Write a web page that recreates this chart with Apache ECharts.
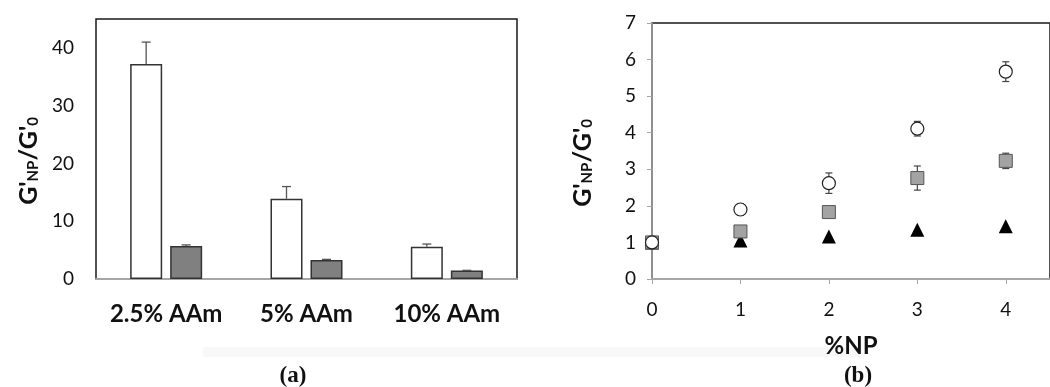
<!DOCTYPE html>
<html>
<head>
<meta charset="utf-8">
<script src="https://cdn.jsdelivr.net/npm/echarts@6/dist/echarts.min.js"></script>
<style>
  html, body { margin: 0; padding: 0; background: #fff; }
  #chart { width: 1050px; height: 387px; }
</style>
</head>
<body>
<div id="chart"></div>
<script>
// panel (a): bars per acrylamide content
var aamCategories = ['2.5% AAm', '5% AAm', '10% AAm'];
var whiteBarValues = [37.2, 13.9, 5.6];
var whiteBarErrors = [3.8, 2.1, 0.45];
var grayBarValues = [5.7, 3.3, 1.45];
var grayBarErrors = [0.2, 0.1, 0.05];

// panel (b): ratio vs nanoparticle content
var npPercent = [0, 1, 2, 3, 4];
var circleValues = [1.0, 1.9, 2.62, 4.11, 5.67];
var circleErrors = [0.05, 0.15, 0.28, 0.2, 0.27];
var squareValues = [1.0, 1.3, 1.83, 2.76, 3.23];
var squareErrors = [0.05, 0.08, 0.1, 0.33, 0.21];
var triangleValues = [1.0, 1.05, 1.16, 1.35, 1.44];

var FONT = 'Lato';
var yTitle = "{g|G'}{s|NP}{g|/G'}{s|0}";
var yTitleStyle = {
  align: 'center',
  padding: [0, 24, 0, 0],
  rich: {
    g: { fontSize: 25, fontWeight: 'bold', fontFamily: FONT, color: '#111', lineHeight: 30, verticalAlign: 'bottom' },
    s: { fontSize: 15, fontWeight: 'bold', fontFamily: FONT, color: '#111', lineHeight: 15, verticalAlign: 'bottom' }
  }
};

// error bar only upward for bars (offset from category centre)
function barError(offset) {
  return function (params, api) {
    var base = api.coord([api.value(0), api.value(1)]);
    var top = api.coord([api.value(0), api.value(1) + api.value(2)]);
    var x = base[0] + offset;
    var st = { stroke: '#555', lineWidth: 1.3 };
    return {
      type: 'group',
      children: [
        { type: 'line', shape: { x1: x, y1: base[1], x2: x, y2: top[1] }, style: st },
        { type: 'line', shape: { x1: x - 4.5, y1: top[1], x2: x + 4.5, y2: top[1] }, style: st }
      ]
    };
  };
}

// symmetric error bars for the scatter
function pointError(params, api) {
  var hi = api.coord([api.value(0), api.value(1) + api.value(2)]);
  var lo = api.coord([api.value(0), api.value(1) - api.value(2)]);
  var x = hi[0];
  var st = { stroke: '#444', lineWidth: 1.2 };
  return {
    type: 'group',
    children: [
      { type: 'line', shape: { x1: x, y1: hi[1], x2: x, y2: lo[1] }, style: st },
      { type: 'line', shape: { x1: x - 3.5, y1: hi[1], x2: x + 3.5, y2: hi[1] }, style: st },
      { type: 'line', shape: { x1: x - 3.5, y1: lo[1], x2: x + 3.5, y2: lo[1] }, style: st }
    ]
  };
}

function zip(xs, ys, es) {
  return xs.map(function (x, i) { return es ? [x, ys[i], es[i]] : [x, ys[i]]; });
}

var chart = echarts.init(document.getElementById('chart'));
var option = {
  animation: false,
  grid: [
    { left: 96, top: 19, width: 421, height: 260, show: true, borderColor: '#1a1a1a', borderWidth: 1.5 },
    { left: 652, top: 23, width: 409, height: 256, show: true, borderColor: '#1a1a1a', borderWidth: 1.5 }
  ],
  xAxis: [
    {
      gridIndex: 0, type: 'category', data: aamCategories,
      axisLine: { lineStyle: { color: '#a6a6a6', width: 2 } },
      axisTick: { show: false },
      axisLabel: { interval: 0, color: '#111', fontFamily: FONT, fontWeight: 'bold', fontSize: 24, margin: 23 }
    },
    {
      gridIndex: 1, type: 'value', min: 0, max: 4.5, interval: 1,
      name: '%NP', nameLocation: 'middle', nameGap: 55,
      nameTextStyle: { color: '#111', fontFamily: FONT, fontWeight: 'bold', fontSize: 24 },
      splitLine: { show: false },
      axisLine: { lineStyle: { color: '#a6a6a6', width: 2 } },
      axisTick: { lineStyle: { color: '#a6a6a6' }, length: 5 },
      axisLabel: { color: '#111', fontFamily: FONT, fontSize: 19, margin: 21, showMaxLabel: false }
    }
  ],
  yAxis: [
    {
      gridIndex: 0, type: 'value', min: 0, max: 45, interval: 10,
      name: yTitle, nameLocation: 'middle', nameGap: 55,
      nameTextStyle: yTitleStyle,
      splitLine: { show: false },
      axisLine: { show: false },
      axisTick: { show: false },
      axisLabel: { color: '#111', fontFamily: FONT, fontSize: 19, margin: 22, showMaxLabel: false }
    },
    {
      gridIndex: 1, type: 'value', min: 0, max: 7, interval: 1,
      name: yTitle, nameLocation: 'middle', nameGap: 57,
      nameTextStyle: yTitleStyle,
      splitLine: { show: false },
      axisLine: { show: true, lineStyle: { color: '#a6a6a6', width: 1.5 } },
      axisTick: { show: true, lineStyle: { color: '#a6a6a6' }, length: 5 },
      axisLabel: { color: '#111', fontFamily: FONT, fontSize: 19, margin: 16 }
    }
  ],
  series: [
    {
      type: 'bar', xAxisIndex: 0, yAxisIndex: 0, data: whiteBarValues,
      barWidth: 32, barGap: '25%',
      itemStyle: { color: '#fff', borderColor: '#333', borderWidth: 1.5 }
    },
    {
      type: 'bar', xAxisIndex: 0, yAxisIndex: 0, data: grayBarValues,
      barWidth: 32, barGap: '25%',
      itemStyle: { color: '#808080', borderColor: '#333', borderWidth: 1.5 }
    },
    {
      type: 'custom', xAxisIndex: 0, yAxisIndex: 0, z: 3,
      renderItem: barError(-20),
      data: zip([0, 1, 2], whiteBarValues, whiteBarErrors)
    },
    {
      type: 'custom', xAxisIndex: 0, yAxisIndex: 0, z: 3,
      renderItem: barError(20),
      data: zip([0, 1, 2], grayBarValues, grayBarErrors)
    },
    {
      type: 'custom', xAxisIndex: 1, yAxisIndex: 1, z: 1,
      renderItem: pointError, data: zip(npPercent, circleValues, circleErrors)
    },
    {
      type: 'custom', xAxisIndex: 1, yAxisIndex: 1, z: 1,
      renderItem: pointError, data: zip(npPercent, squareValues, squareErrors)
    },
    {
      type: 'scatter', xAxisIndex: 1, yAxisIndex: 1, z: 2,
      symbol: 'triangle', symbolSize: 14,
      itemStyle: { color: '#000', opacity: 1 },
      data: zip(npPercent, triangleValues)
    },
    {
      type: 'scatter', xAxisIndex: 1, yAxisIndex: 1, z: 3,
      symbol: 'rect', symbolSize: 13,
      itemStyle: { color: '#a3a3a3', borderColor: '#555', borderWidth: 1, opacity: 1 },
      data: zip(npPercent, squareValues)
    },
    {
      type: 'scatter', xAxisIndex: 1, yAxisIndex: 1, z: 4,
      symbol: 'circle', symbolSize: 13,
      itemStyle: { color: '#fff', borderColor: '#222', borderWidth: 1.2, opacity: 1 },
      data: zip(npPercent, circleValues)
    }
  ],
  graphic: [
    { type: 'rect', shape: { x: 203, y: 347, width: 657, height: 10 }, style: { fill: '#f8f8f8' }, z: -1 },
    { type: 'text', x: 293, y: 376, style: { text: '(a)', fill: '#111', font: 'bold 23px "Liberation Serif"', textAlign: 'center', textVerticalAlign: 'middle' } },
    { type: 'text', x: 858, y: 376, style: { text: '(b)', fill: '#111', font: 'bold 23px "Liberation Serif"', textAlign: 'center', textVerticalAlign: 'middle' } }
  ]
};
chart.setOption(option);
</script>
</body>
</html>
